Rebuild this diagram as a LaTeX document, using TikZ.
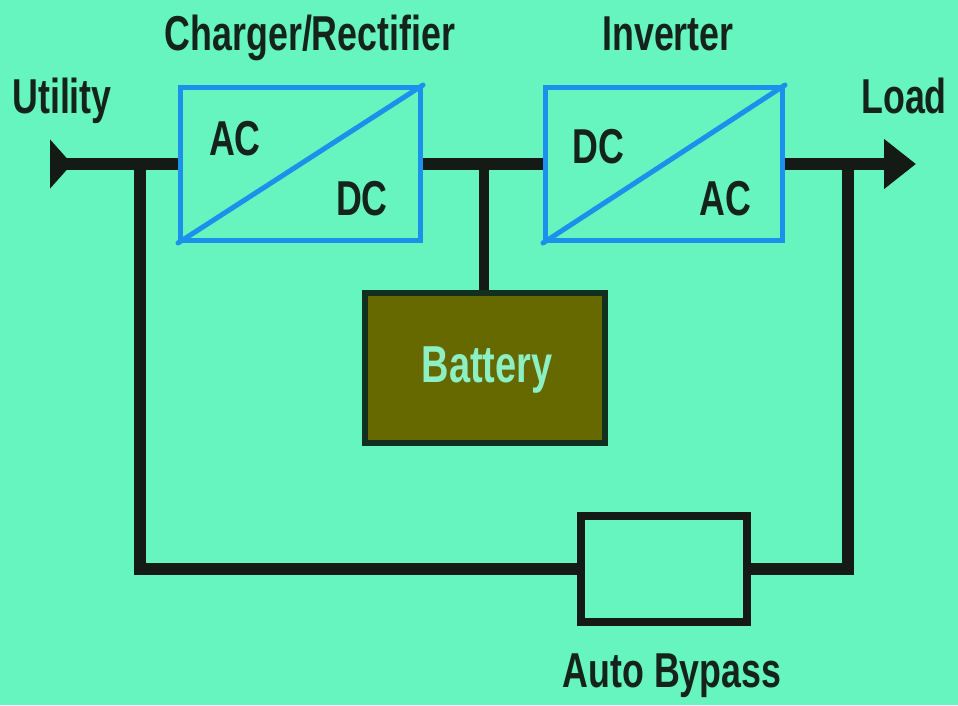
\documentclass[tikz,border=0pt]{standalone}
\usepackage{fontspec}
\setmainfont{Liberation Sans}[FakeStretch=0.73]
\usetikzlibrary{arrows.meta}
\definecolor{bg}{RGB}{102,245,190}
\definecolor{conv}{RGB}{28,145,235}
\definecolor{wire}{RGB}{20,26,22}
\definecolor{txt}{RGB}{20,36,28}
\definecolor{batt}{RGB}{102,104,0}
\definecolor{battline}{RGB}{18,48,30}
\definecolor{batttxt}{RGB}{140,240,195}
\tikzset{
  lbl/.style={font=\bfseries\fontsize{49}{49}\selectfont, text=txt, inner sep=0pt, anchor=base},
  convbox/.style={draw=conv, line width=5pt, fill=bg, inner sep=0pt},
  wireline/.style={draw=wire, line width=12pt},
}
\begin{document}
\begin{tikzpicture}[x=1pt,y=-1pt]
\useasboundingbox (0,0) rectangle (958,705);
\fill[bg] (0,0) rectangle (958,705);

% coordinates
\coordinate (utl) at (50,164);
\coordinate (ld) at (916,164);
\coordinate (jl) at (140,164);
\coordinate (jlb) at (140,569);
\coordinate (jr) at (848,164);
\coordinate (jrb) at (848,569);
\coordinate (jb) at (484,164);

% wires
\draw[wireline, {Triangle[reversed,length=22pt,width=48pt]}-] (utl) -- (180,164);
\draw[wireline] (420,164) -- (545,164);
\draw[wireline, -{Triangle[length=32pt,width=48pt]}] (783,164) -- (ld);
\draw[wireline] (jl) -- (jlb) -- (600,569);
\draw[wireline] (740,569) -- (jrb) -- (jr);
\draw[draw=wire, line width=10pt] (jb) -- (484,292);

% converter boxes
\node[convbox, minimum width=240pt, minimum height=153pt] (rect) at (300.5,164) {};
\draw[conv, line width=5pt, line cap=round] (rect.south west) -- (rect.north east);
\node[convbox, minimum width=237pt, minimum height=153pt] (inv) at (664,164) {};
\draw[conv, line width=5pt, line cap=round] (inv.south west) -- (inv.north east);

% battery
\node[draw=battline, fill=batt, line width=6pt, minimum width=240pt, minimum height=150pt, inner sep=0pt] (bat) at (484.5,367.5) {};
% bypass
\node[draw=wire, fill=bg, line width=8pt, minimum width=166pt, minimum height=106pt, inner sep=0pt] (byp) at (664,568.5) {};

% labels
\node[lbl] (tchg) at (310,50) {Charger/Rectifier};
\node[lbl] (tinv) at (668,50) {Inverter};
\node[lbl] (tutl) at (62,113) {Utility};
\node[lbl] (tld) at (904,113) {Load};
\node[lbl] (rac) at (235,155) {AC};
\node[lbl] (rdc) at (362,215) {DC};
\node[lbl] (idc) at (598,163) {DC};
\node[lbl] (iac) at (725,215) {AC};
\node[lbl, text=batttxt, font=\bfseries\fontsize{52}{52}\selectfont] (tbat) at (487,382) {Battery};
\node[lbl] (tbyp) at (672,687) {Auto Bypass};
\end{tikzpicture}
\end{document}
